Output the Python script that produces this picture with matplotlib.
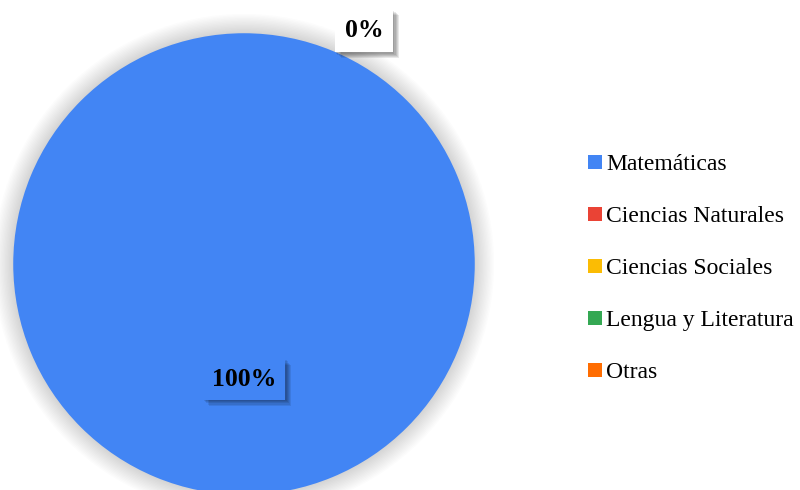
import numpy as np
import matplotlib.pyplot as plt
import matplotlib.patheffects as pe
from matplotlib.lines import Line2D
from matplotlib.patches import Circle

# -------------------------------
# Data
# -------------------------------
categories = ['Matemáticas', 'Ciencias Naturales', 'Ciencias Sociales',
              'Lengua y Literatura', 'Otras']
values = [100, 0, 0, 0, 0]
colors = ['#4285F4', '#EA4335', '#FBBC04', '#34A853', '#FF6D01']

plt.rcParams['font.family'] = ['Liberation Serif', 'DejaVu Serif']

fig = plt.figure(figsize=(8, 4.9), dpi=100)

# axes sized so that radius 1 -> ~231 px, centre at (244, 264) px
size = 600
ax = fig.add_axes([(244 - size / 2) / 800, (226 - size / 2) / 490, size / 800, size / 490])

# soft shadow around the pie
for i in range(14):
    ax.add_patch(Circle((0, 0), 1.0 + 0.006 * (i + 1), color='black',
                        alpha=0.011, lw=0, zorder=0))

wedges, _ = ax.pie(values, colors=colors, startangle=90, counterclock=False,
                   radius=1.0, wedgeprops=dict(linewidth=0))
ax.set_xlim(-1.3, 1.3)
ax.set_ylim(-1.3, 1.3)
ax.set_aspect('equal')
ax.axis('off')

# blurred-looking drop shadow for the label boxes
shadow = [pe.SimplePatchShadow(offset=(d, -d), shadow_rgbFace='black', alpha=0.09)
          for d in (1, 1.8, 2.6, 3.4, 4.2)] + [pe.Normal()]

# percent labels
total = sum(values)
for w, v, c in zip(wedges, values, colors):
    pct = 100 * v / total
    if v > 0:
        ang = np.deg2rad((w.theta1 + w.theta2) / 2)
        t = ax.text(0.5 * np.cos(ang), 0.5 * np.sin(ang), f'{pct:.0f}%',
                    ha='center', va='center', fontsize=18.5, fontweight='bold',
                    bbox=dict(boxstyle='square,pad=0.35', fc=c, ec='none'))
        t.get_bbox_patch().set_path_effects(shadow)

# single label for the zero slices, placed outside the top of the pie
t0 = ax.text(0.52, 1.01, '0%', ha='center', va='center', fontsize=18.5,
             fontweight='bold',
             bbox=dict(boxstyle='square,pad=0.38', fc='white', ec='none'))
t0.get_bbox_patch().set_path_effects(shadow)

# legend
handles = [Line2D([], [], marker='s', linestyle='', markersize=9.8,
                  color=c, markeredgewidth=0) for c in colors]
fig.legend(handles, categories, loc='center left', bbox_to_anchor=(586 / 800, 0.452),
           frameon=False, fontsize=17, handlelength=0.8, handletextpad=0.05,
           labelspacing=1.29, borderpad=0, borderaxespad=0)

plt.savefig('out.png', dpi=100)
plt.close()
